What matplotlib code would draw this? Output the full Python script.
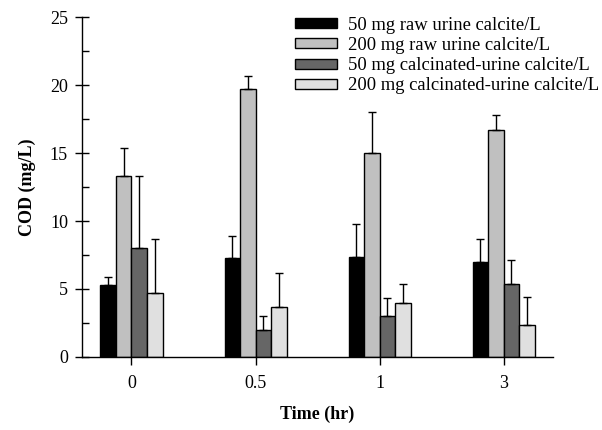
import matplotlib
matplotlib.use('Agg')
import matplotlib.pyplot as plt
from matplotlib.ticker import MultipleLocator
import numpy as np

# datos
tiempos = ['0', '0.5', '1', '3']
series = ['50 mg raw urine calcite/L', '200 mg raw urine calcite/L',
          '50 mg calcinated-urine calcite/L', '200 mg calcinated-urine calcite/L']
raw_50 = [5.3, 7.3, 7.35, 7.0]
raw_200 = [13.3, 19.7, 15.0, 16.7]
calc_50 = [8.0, 2.0, 3.0, 5.35]
calc_200 = [4.7, 3.7, 4.0, 2.35]
err_raw_50 = [0.6, 1.6, 2.45, 1.65]
err_raw_200 = [2.1, 1.0, 3.05, 1.1]
err_calc_50 = [5.3, 1.0, 1.35, 1.75]
err_calc_200 = [4.0, 2.5, 1.4, 2.05]

colores = ['#000000', '#c0c0c0', '#666666', '#e0e0e0']

plt.rcParams['font.family'] = ['Liberation Serif', 'DejaVu Serif']

fig = plt.figure(figsize=(6.02, 4.3), dpi=100)
ax = fig.add_axes([0.136, 0.170, 0.783, 0.790])

x = np.arange(len(tiempos))
ancho = 0.125
valores = [raw_50, raw_200, calc_50, calc_200]
errores = [err_raw_50, err_raw_200, err_calc_50, err_calc_200]

for i, (vals, errs) in enumerate(zip(valores, errores)):
    pos = x + (i - 1.5) * ancho
    ax.bar(pos, vals, width=ancho, color=colores[i], edgecolor='black',
           linewidth=1.0, label=series[i], zorder=2)
    ax.errorbar(pos, vals, yerr=[np.zeros(len(vals)), errs], fmt='none',
                ecolor='black', elinewidth=1.0, capsize=3, capthick=1.0, zorder=3)

ax.set_xlim(-0.4, 3.4)
ax.set_ylim(0, 25)
ax.set_xticks(x)
ax.set_xticklabels(tiempos)
ax.yaxis.set_major_locator(MultipleLocator(5))
ax.yaxis.set_minor_locator(MultipleLocator(2.5))

for lado in ['top', 'right']:
    ax.spines[lado].set_visible(False)
for lado in ['left', 'bottom']:
    ax.spines[lado].set_linewidth(1.0)

ax.tick_params(axis='y', which='major', direction='inout', length=10, width=1,
               labelsize=13, pad=5)
ax.tick_params(axis='y', which='minor', direction='in', length=5, width=1)
ax.tick_params(axis='x', which='major', direction='out', length=6, width=1,
               labelsize=13, pad=7)

ax.set_xlabel('Time (hr)', fontsize=13, fontweight='bold', labelpad=10)
ax.set_ylabel('COD (mg/L)', fontsize=13, fontweight='bold', labelpad=10)

ax.legend(loc='upper left', bbox_to_anchor=(0.478, 0.978), bbox_transform=fig.transFigure,
          frameon=False, fontsize=13.4, handlelength=2.25, handleheight=0.45,
          labelspacing=0.17, handletextpad=0.6, borderaxespad=0)

fig.savefig('out.png', dpi=100)
